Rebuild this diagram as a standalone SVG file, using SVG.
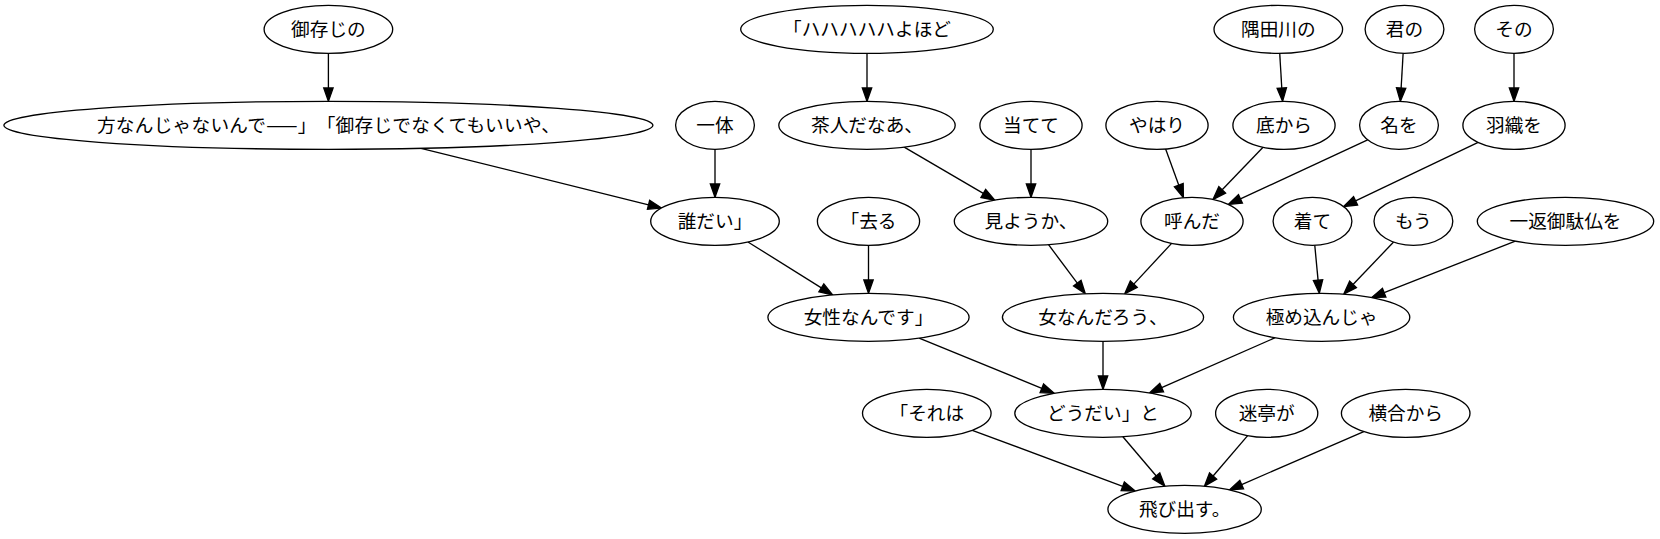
<svg xmlns="http://www.w3.org/2000/svg" width="1660" height="539" viewBox="0 0 1660 539">
<style>
.node ellipse{fill:#fff;stroke:#000;stroke-width:1.33}
.node text{font-family:"Noto Sans CJK JP","Noto Sans CJK SC",sans-serif;font-size:18.67px;text-anchor:middle;fill:#000;text-spacing-trim:space-all}
.edges path{fill:none;stroke:#000;stroke-width:1.33;marker-end:url(#arr)}
</style>
<defs>
<marker id="arr" markerUnits="userSpaceOnUse" markerWidth="16" markerHeight="12" refX="1" refY="6" orient="auto" overflow="visible">
<path d="M1,1.33 L14.33,6 L1,10.67 Z" fill="#000" stroke="#000" stroke-width="1.33"/>
</marker>
</defs>
<rect width="1660" height="539" fill="#fff"/>
<g class="edges">
<path d="M328.4,53.33 L328.4,88"/>
<path d="M421.03,148.33 L648.53,204.83"/>
<path d="M715,149.33 L715,184"/>
<path d="M867,53.33 L867,88"/>
<path d="M904.2,147.1 L983.3,193.4"/>
<path d="M1031,149.33 L1031,184"/>
<path d="M1165.62,148.99 L1178.81,185.15"/>
<path d="M1263.03,147.22 L1222.19,189.82"/>
<path d="M1367.65,139.87 L1240.45,198.86"/>
<path d="M1279.72,53.32 L1281.79,88.03"/>
<path d="M1403.13,53.31 L1401.13,88.04"/>
<path d="M1514,53.33 L1514,88"/>
<path d="M1478.13,142.42 L1355.56,200.81"/>
<path d="M747.95,241.94 L821.35,287.84"/>
<path d="M868.5,245.33 L868.5,280"/>
<path d="M1048.52,244.7 L1077.28,283.05"/>
<path d="M1171.6,243.33 L1133.78,284.12"/>
<path d="M1314.77,245.29 L1318.07,280.07"/>
<path d="M1393.57,242.07 L1353.02,284.47"/>
<path d="M1515.34,241.07 L1384.16,292.71"/>
<path d="M919.15,338.07 L1041.84,388.29"/>
<path d="M1103,341.33 L1103,376"/>
<path d="M1275.14,337.73 L1161.66,387.57"/>
<path d="M972.32,430.28 L1122.77,486.31"/>
<path d="M1122.88,436.71 L1156.26,475.98"/>
<path d="M1247.65,435.6 L1213.09,476.02"/>
<path d="M1363.78,431.53 L1241.67,484.55"/>
</g>
<g id="n1" class="node"><ellipse cx="328.4" cy="29.33" rx="64.3" ry="24"/><text x="328.4" y="35.8">御存じの</text></g>
<g id="n2" class="node"><ellipse cx="867" cy="29.33" rx="126.3" ry="24"/><text x="867" y="35.8">「ハハハハハよほど</text></g>
<g id="n3" class="node"><ellipse cx="1278.3" cy="29.33" rx="64.3" ry="24"/><text x="1278.3" y="35.8">隅田川の</text></g>
<g id="n4" class="node"><ellipse cx="1404.5" cy="29.33" rx="39.4" ry="24"/><text x="1404.5" y="35.8">君の</text></g>
<g id="n5" class="node"><ellipse cx="1514" cy="29.33" rx="39.4" ry="24"/><text x="1514" y="35.8">その</text></g>
<g id="n6" class="node"><ellipse cx="328.4" cy="125.33" rx="324.5" ry="24"/><text x="328.4" y="131.8" textLength="463" lengthAdjust="spacing">方なんじゃないんで——」「御存じでなくてもいいや、</text></g>
<g id="n7" class="node"><ellipse cx="715" cy="125.33" rx="39.4" ry="24"/><text x="715" y="131.8">一体</text></g>
<g id="n8" class="node"><ellipse cx="867" cy="125.33" rx="88.2" ry="24"/><text x="867" y="131.8">茶人だなあ、</text></g>
<g id="n9" class="node"><ellipse cx="1031" cy="125.33" rx="51.1" ry="24"/><text x="1031" y="131.8">当てて</text></g>
<g id="n10" class="node"><ellipse cx="1157" cy="125.33" rx="51.1" ry="24"/><text x="1157" y="131.8">やはり</text></g>
<g id="n11" class="node"><ellipse cx="1284" cy="125.33" rx="51.1" ry="24"/><text x="1284" y="131.8">底から</text></g>
<g id="n12" class="node"><ellipse cx="1399" cy="125.33" rx="39.4" ry="24"/><text x="1399" y="131.8">名を</text></g>
<g id="n13" class="node"><ellipse cx="1514" cy="125.33" rx="51.1" ry="24"/><text x="1514" y="131.8">羽織を</text></g>
<g id="n14" class="node"><ellipse cx="715" cy="221.33" rx="64.3" ry="24"/><text x="715" y="227.8">誰だい」</text></g>
<g id="n15" class="node"><ellipse cx="868.5" cy="221.33" rx="51.1" ry="24"/><text x="868.5" y="227.8">「去る</text></g>
<g id="n16" class="node"><ellipse cx="1031" cy="221.33" rx="76.7" ry="24"/><text x="1031" y="227.8">見ようか、</text></g>
<g id="n17" class="node"><ellipse cx="1192" cy="221.33" rx="51.1" ry="24"/><text x="1192" y="227.8">呼んだ</text></g>
<g id="n18" class="node"><ellipse cx="1312.5" cy="221.33" rx="39.4" ry="24"/><text x="1312.5" y="227.8">着て</text></g>
<g id="n19" class="node"><ellipse cx="1413.4" cy="221.33" rx="39.4" ry="24"/><text x="1413.4" y="227.8">もう</text></g>
<g id="n20" class="node"><ellipse cx="1565.5" cy="221.33" rx="88.2" ry="24"/><text x="1565.5" y="227.8">一返御駄仏を</text></g>
<g id="n21" class="node"><ellipse cx="868.5" cy="317.33" rx="100.6" ry="24"/><text x="868.5" y="323.8">女性なんです」</text></g>
<g id="n22" class="node"><ellipse cx="1103" cy="317.33" rx="100.6" ry="24"/><text x="1103" y="323.8">女なんだろう、</text></g>
<g id="n23" class="node"><ellipse cx="1321.6" cy="317.33" rx="88.2" ry="24"/><text x="1321.6" y="323.8">極め込んじゃ</text></g>
<g id="n24" class="node"><ellipse cx="926.8" cy="413.33" rx="64.3" ry="24"/><text x="926.8" y="419.8">「それは</text></g>
<g id="n25" class="node"><ellipse cx="1103" cy="413.33" rx="88.2" ry="24"/><text x="1103" y="419.8">どうだい」と</text></g>
<g id="n26" class="node"><ellipse cx="1266.7" cy="413.33" rx="51.1" ry="24"/><text x="1266.7" y="419.8">迷亭が</text></g>
<g id="n27" class="node"><ellipse cx="1405.7" cy="413.33" rx="64.3" ry="24"/><text x="1405.7" y="419.8">横合から</text></g>
<g id="n28" class="node"><ellipse cx="1184.6" cy="509.33" rx="76.7" ry="24"/><text x="1184.6" y="515.8">飛び出す。</text></g>
</svg>
